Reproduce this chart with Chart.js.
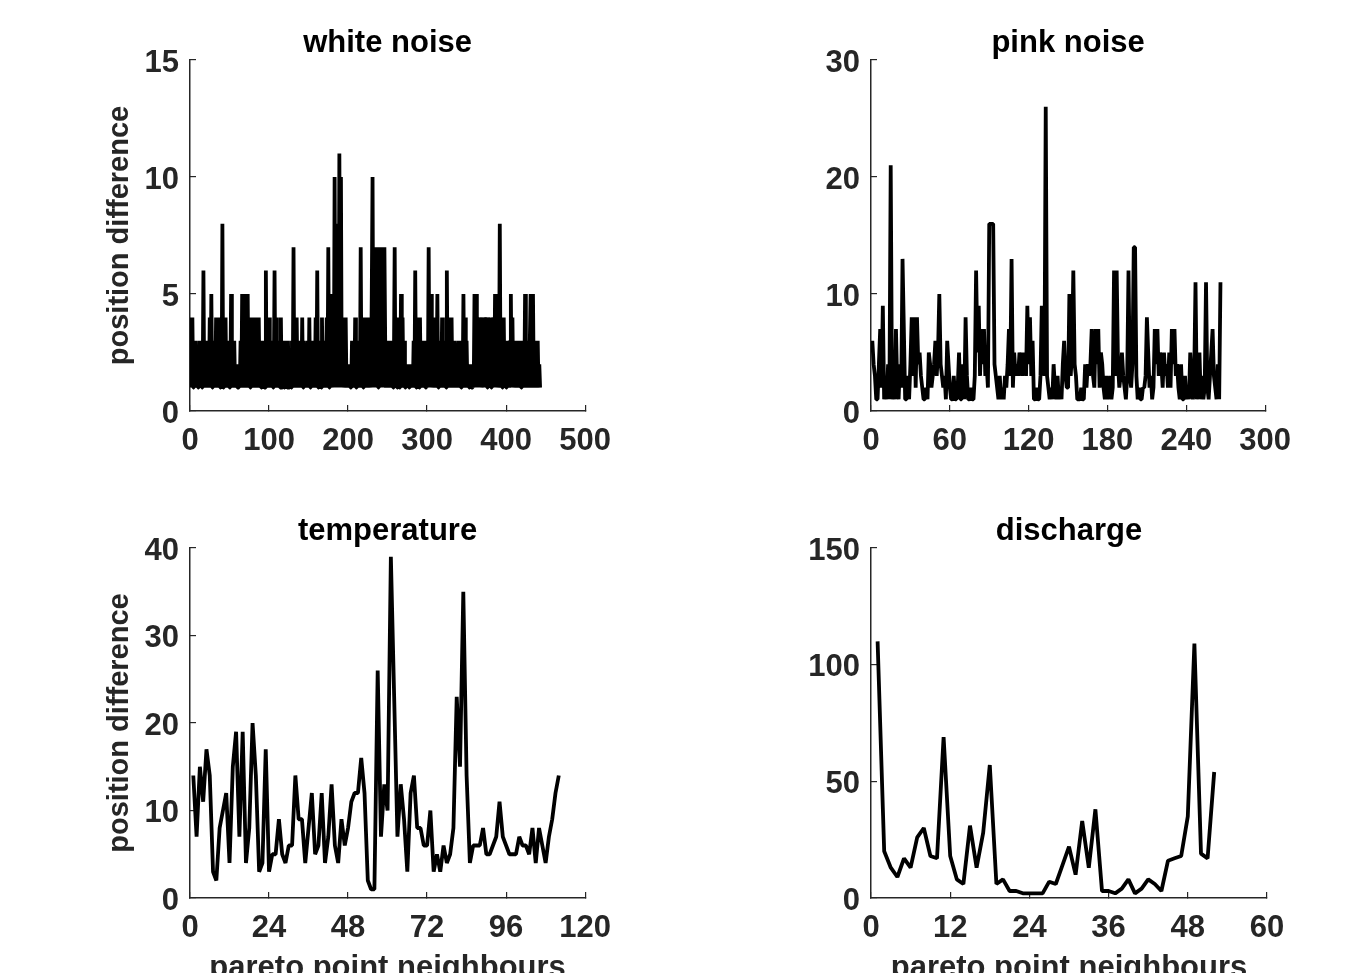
<!DOCTYPE html>
<html>
<head>
<meta charset="utf-8">
<script src="https://cdn.jsdelivr.net/npm/chart.js@4.4.1/dist/chart.umd.min.js"></script>
<style>
  html, body { margin: 0; padding: 0; background: #fff; overflow: hidden; }
  #figure { position: relative; width: 1358px; height: 973px; overflow: hidden; background: #fff; }
  #figure canvas { position: absolute; }
</style>
</head>
<body>
<div id="figure">
  <canvas id="panelWhite" width="572" height="470" style="left:60px;top:0px"></canvas>
  <canvas id="panelPink"  width="571" height="470" style="left:741px;top:0px"></canvas>
  <canvas id="panelTemp"  width="572" height="512" style="left:60px;top:488px"></canvas>
  <canvas id="panelDisch" width="571" height="512" style="left:741px;top:488px"></canvas>
</div>
<script>
// ── Data: position difference per pareto point neighbour (x = 1, 2, 3 …) ──
const WHITE_NOISE = [
  4,1,4,1,2,1,3,1,2,1,1,3,1,2,1,1,6,1,2,1,
  3,1,2,1,4,1,5,1,3,1,2,1,4,1,3,1,4,1,2,1,
  8,1,3,1,4,1,2,1,3,1,1,5,1,2,1,3,1,1,2,1,
  1,2,1,3,1,5,1,2,5,1,3,1,5,1,4,1,2,1,4,1,
  3,1,4,1,2,1,4,1,3,1,2,1,3,1,1,6,1,2,1,4,
  1,3,1,2,1,1,6,1,4,1,2,1,3,1,4,1,1,2,1,3,
  1,2,1,3,1,1,2,1,3,1,7,1,2,1,4,1,3,1,1,2,
  1,4,1,3,1,2,1,1,3,1,4,1,2,1,3,1,2,1,4,1,
  6,1,2,1,3,1,4,1,2,1,3,1,4,1,7,1,5,1,3,1,
  5,1,10,1,4,1,8,1,11,2,10,1,4,1,3,1,4,1,2,1,
  1,2,1,1,3,1,2,1,4,1,1,2,1,3,1,7,1,4,1,3,
  1,4,1,2,1,4,1,3,1,5,10,1,6,1,7,2,7,1,5,7,
  1,7,2,6,1,7,3,1,2,3,1,2,1,3,1,2,1,2,7,1,
  3,1,4,2,1,1,5,1,4,1,3,1,1,2,1,2,1,1,2,1,
  2,1,3,1,6,1,4,1,3,1,4,1,2,1,3,1,2,1,1,3,
  1,7,1,4,5,1,3,1,4,1,2,1,5,1,3,1,2,1,4,1,
  3,1,2,1,6,1,4,1,3,1,4,1,2,1,3,1,2,1,1,3,
  1,2,1,3,1,5,1,4,1,3,1,2,1,1,2,1,1,2,1,5,
  1,5,1,4,1,4,2,4,1,3,4,1,4,2,4,1,4,3,1,4,
  1,4,2,4,1,5,1,4,1,3,1,8,1,4,1,3,4,1,2,1,
  3,1,2,1,3,5,1,4,1,3,1,2,1,3,1,2,1,3,1,2,
  1,3,1,5,1,2,1,3,1,1,5,1,3,5,1,3,1,2,1,3,
  1,2,1
];

const PINK_NOISE = [
  6,4,3,1,1,4,7,2,9,1,3,1,4,1,21,1,3,1,7,2,
  1,4,2,13,7,1,1,3,1,4,8,3,8,2,8,4,5,3,2,1,
  1,2,1,5,4,2,3,4,6,3,5,10,4,3,2,3,1,6,4,2,
  1,1,3,1,1,2,5,1,1,4,1,8,3,1,1,2,1,1,3,12,
  5,9,3,7,4,7,3,4,2,16,16,16,16,4,3,2,1,3,1,2,
  1,3,2,4,7,3,13,2,5,3,4,3,5,4,3,5,4,3,9,4,
  8,3,6,1,1,2,1,1,3,9,4,3,26,3,2,1,2,1,4,2,
  1,3,1,2,1,4,6,3,2,2,10,3,5,12,4,3,1,1,1,2,
  1,1,4,2,4,3,4,7,3,2,7,4,7,2,5,4,2,1,3,1,
  2,3,1,2,12,3,12,4,2,3,5,3,2,1,3,12,3,2,4,14,
  14,3,1,2,1,1,2,2,3,8,5,2,3,1,2,7,4,7,3,5,
  4,2,5,3,4,2,5,2,7,4,7,3,4,2,1,4,1,1,3,1,
  2,1,5,3,1,3,11,1,2,5,1,3,1,2,11,2,1,3,5,7,
  3,2,1,4,1,11
];

const TEMPERATURE = [
  14,7,15,11,17,14,3,2,8,10,12,4,15,19,7,19,4,8,20,14,
  3,4,17,3,5,5,9,5,4,6,6,14,9,9,4,8,12,5,6,12,
  4,7,13,6,4,9,6,8,11,12,12,16,12,2,1,1,26,7,13,10,
  39,23,7,13,9,3,12,14,8,8,6,6,10,3,5,3,6,4,5,8,
  23,15,35,14,4,6,6,6,8,5,5,6,7,11,7,6,5,5,5,7,
  6,6,5,8,4,8,6,4,7,9,12,14
];

const DISCHARGE = [
  110,20,13,9,17,13,26,30,18,17,69,18,8,6,31,13,28,57,6,8,
  3,3,2,2,2,2,7,6,14,22,10,33,13,38,3,3,2,4,8,2,
  4,8,6,3,16,17,18,35,109,19,17,54
];

// ── Panel labels and axis ranges ────────────────────────────────────────────
const PANEL_TITLES = ['white noise', 'pink noise', 'temperature', 'discharge'];
const X_MAX  = [500, 300, 120, 60];
const X_STEP = [100, 60, 24, 12];
const Y_MAX  = [15, 30, 40, 150];
const Y_STEP = [5, 10, 10, 50];
const Y_LABEL = 'position difference';
const X_LABEL = 'pareto point neighbours';

// ── Shared styling ──────────────────────────────────────────────────────────
const FONT_FAMILY = "'Liberation Sans', Arial, Helvetica, sans-serif";
const AXIS_COLOR  = '#262626';

function toPoints(values) {
  return values.map((v, i) => ({ x: i + 1, y: v }));
}

function axisOptions(axis, max, step, titleText, isBottomRow) {
  const isX = axis === 'x';
  return {
    type: 'linear',
    min: 0,
    max: max,
    afterFit: scale => {
      if (isX) scale.height = isBottomRow ? 102 : 59;
      else scale.width = 130;
    },
    grid: {
      display: true,
      drawOnChartArea: false,
      drawTicks: true,
      tickLength: -6,
      color: AXIS_COLOR,
      lineWidth: 1.2,
    },
    border: { display: true, color: AXIS_COLOR, width: 1.5 },
    ticks: {
      stepSize: step,
      autoSkip: false,
      maxRotation: 0,
      padding: isX ? 21 : 17,
      labelOffset: isX ? 0 : 3,
      color: AXIS_COLOR,
      font: { family: FONT_FAMILY, size: 31, weight: 'bold', lineHeight: 1 },
    },
    title: {
      display: !!titleText,
      text: titleText || '',
      color: AXIS_COLOR,
      font: { family: FONT_FAMILY, size: isX ? 31 : 29, weight: 'bold', lineHeight: 1 },
      padding: isX ? { top: 0, bottom: 16 } : { top: 45, bottom: 0 },
    },
  };
}

function renderPanel(canvasId, idx, values, showYLabel, isBottomRow) {
  const canvas = document.getElementById(canvasId);
  if (!canvas || !window.Chart) return;

  new Chart(canvas, {
    type: 'line',
    data: {
      datasets: [{
        data: toPoints(values),
        borderColor: '#000000',
        borderWidth: 3.8,
        borderJoinStyle: 'bevel',
        pointRadius: 0,
        tension: 0,
        fill: false,
      }],
    },
    options: {
      responsive: false,
      animation: false,
      devicePixelRatio: 1,
      layout: { padding: { left: 0, right: 45, top: 0, bottom: 0 } },
      plugins: {
        legend: { display: false },
        tooltip: { enabled: false },
        title: {
          display: true,
          text: PANEL_TITLES[idx],
          fullSize: false,
          color: '#000000',
          font: { family: FONT_FAMILY, size: 31, weight: 'bold', lineHeight: 1 },
          padding: { top: 28, bottom: 1 },
        },
      },
      scales: {
        x: axisOptions('x', X_MAX[idx], X_STEP[idx], isBottomRow ? X_LABEL : null, isBottomRow),
        y: axisOptions('y', Y_MAX[idx], Y_STEP[idx], showYLabel ? Y_LABEL : null, isBottomRow),
      },
    },
  });
}

renderPanel('panelWhite', 0, WHITE_NOISE, true,  false);
renderPanel('panelPink',  1, PINK_NOISE,  false, false);
renderPanel('panelTemp',  2, TEMPERATURE, true,  true);
renderPanel('panelDisch', 3, DISCHARGE,   false, true);
</script>
</body>
</html>
